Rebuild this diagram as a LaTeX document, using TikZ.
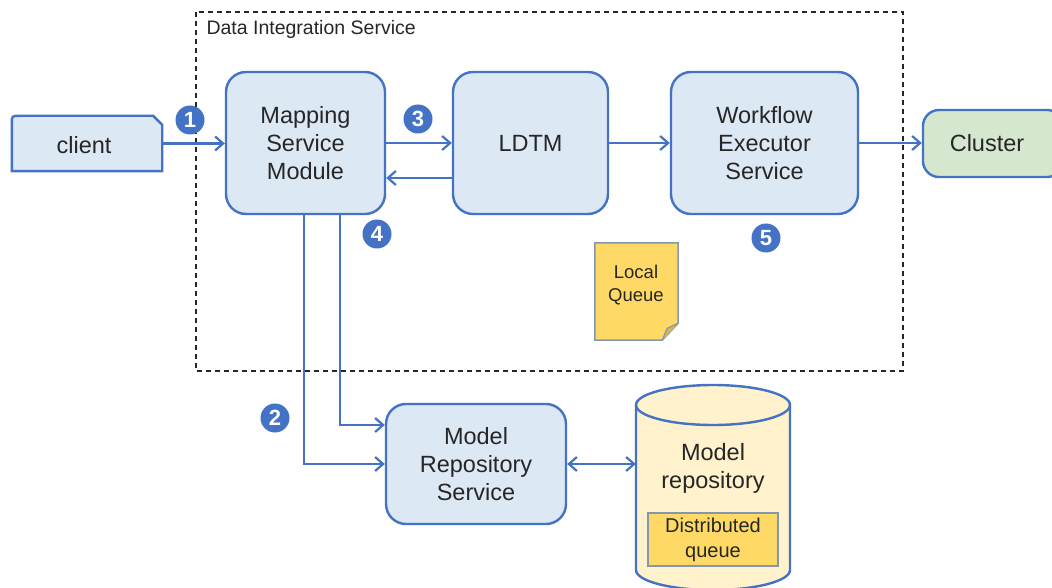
\documentclass[tikz,border=0pt]{standalone}
\usepackage{fontspec}
\setmainfont{Liberation Sans}
\usetikzlibrary{arrows.meta,calc}
\definecolor{edge}{HTML}{4472C4}
\definecolor{boxfill}{HTML}{DDE8F5}
\definecolor{greenfill}{HTML}{D5E8CF}
\definecolor{dbfill}{HTML}{FFF2CC}
\definecolor{queuefill}{HTML}{FFD966}
\definecolor{queueedge}{HTML}{8497B0}
\definecolor{foldfill}{HTML}{D9B550}
\definecolor{ink}{HTML}{262626}
\tikzset{
  svc/.style={draw=edge, fill=boxfill, line width=2.4pt, rounded corners=20pt,
    align=center, text=ink, font=\fontsize{23.5}{28}\selectfont, inner sep=0pt},
  flow/.style={draw=edge, line width=2.2pt, -{Straight Barb[length=8pt,width=14pt,line width=2.2pt]}},
  flowboth/.style={draw=edge, line width=2.2pt, {Straight Barb[length=8pt,width=14pt,line width=2.2pt]}-{Straight Barb[length=8pt,width=14pt,line width=2.2pt]}},
  numc/.style={circle, fill=edge, text=white, inner sep=0pt, minimum size=29pt,
    font=\fontsize{22}{22}\selectfont\bfseries},
  lbl/.style={text=ink, align=center},
}
\begin{document}
\begin{tikzpicture}[x=1pt,y=-1pt]
\useasboundingbox (0,0) rectangle (1052,588);
\fill[white] (0,0) rectangle (1052,588);

% service boundary
\draw[dash pattern=on 5pt off 4pt, line width=1.2pt, black!85] (196,12) rectangle (903,371);
\node[lbl, anchor=west, font=\fontsize{19.5}{22}\selectfont] (dis) at (203,29) {Data Integration Service};

% client
\node[inner sep=0pt, minimum width=150pt, minimum height=55pt] (client) at (87,143.5) {};
\draw[draw=edge, fill=boxfill, line width=2.4pt]
  (client.south west) -- ($(client.north west)+(0,8)$)
  .. controls (client.north west) .. ($(client.north west)+(8,0)$)
  -- ($(client.north east)+(-9,0)$) -- ($(client.north east)+(0,9)$)
  -- (client.south east) -- cycle;
\node[lbl, font=\fontsize{23.5}{28}\selectfont] (clienttext) at (84,145) {client};

% services
\node[svc, minimum width=159pt, minimum height=142pt] (map) at (305.5,143) {Mapping\\Service\\Module};
\node[svc, minimum width=155pt, minimum height=142pt] (ldtm) at (530.5,143) {LDTM};
\node[svc, minimum width=187pt, minimum height=142pt] (wes) at (764.5,143) {Workflow\\Executor\\Service};
\node[svc, minimum width=180pt, minimum height=120pt] (mrs) at (476,464) {Model\\Repository\\Service};

\begin{scope}
\clip (0,0) rectangle (1052,588);
% cluster (runs off the right edge)
\node[svc, fill=greenfill, rounded corners=16pt, minimum width=140pt, minimum height=67pt] (cluster) at (993,143.5) {};
\node[lbl, font=\fontsize{23.5}{28}\selectfont] (clustertext) at (987,143.5) {Cluster};

% model repository cylinder
\node[inner sep=0pt, minimum width=154pt, minimum height=200pt] (repo) at (713,485) {};
\draw[draw=edge, fill=dbfill, line width=2.4pt]
  (636,405) -- (636,570)
  .. controls (636,581) and (670.5,590) .. (713,590)
  .. controls (755.5,590) and (790,581) .. (790,570)
  -- (790,405)
  .. controls (790,394) and (755.5,385) .. (713,385)
  .. controls (670.5,385) and (636,394) .. (636,405) -- cycle;
\draw[draw=edge, line width=2.4pt]
  (636,405) .. controls (636,416) and (670.5,425) .. (713,425)
  .. controls (755.5,425) and (790,416) .. (790,405);
\end{scope}
\node[lbl, font=\fontsize{23.5}{28}\selectfont] (repotext) at (713,468) {Model\\repository};
\node[draw=queueedge, fill=queuefill, line width=1.5pt, minimum width=130pt, minimum height=53pt,
  inner sep=0pt, align=center, text=ink, font=\fontsize{20}{25}\selectfont] (dq) at (713,539.5) {Distributed\\queue};

% local queue note with folded corner
\node[inner sep=0pt, minimum width=83pt, minimum height=97pt] (lq) at (636.5,291.5) {};
\draw[draw=queueedge, fill=queuefill, line width=1.5pt]
  (lq.north west) -- (lq.north east) -- ($(lq.south east)+(0,-17)$)
  -- ($(lq.south east)+(-16,0)$) -- (lq.south west) -- cycle;
\draw[draw=queueedge, fill=foldfill, line width=1.2pt]
  ($(lq.south east)+(0,-17)$) -- ($(lq.south east)+(-11,-12)$) -- ($(lq.south east)+(-16,0)$);
\node[lbl, font=\fontsize{18.5}{23}\selectfont] (lqtext) at (636,285) {Local\\Queue};

% connectors
\draw[flow] (client.east) -- (map.west |- client.east);
\draw[flow] (map.east) -- (ldtm.west);
\draw[flow] ([yshift=-35pt]ldtm.west) -- ([yshift=-35pt]map.east);
\draw[flow] (ldtm.east) -- (wes.west);
\draw[flow] (wes.east) -- (cluster.west |- wes.east);
\draw[flow] ([xshift=-1.5pt]map.south) |- (mrs.west);
\draw[flow] ([xshift=34.5pt]map.south) |- ([yshift=39pt]mrs.west);
\draw[flowboth] (mrs.east) -- (mrs.east -| repo.west);

% step markers
\node[numc] (n1) at (190,120) {1};
\node[numc] (n2) at (275,418) {2};
\node[numc] (n3) at (418,119) {3};
\node[numc] (n4) at (377,234) {4};
\node[numc] (n5) at (766,238) {5};
\end{tikzpicture}
\end{document}
